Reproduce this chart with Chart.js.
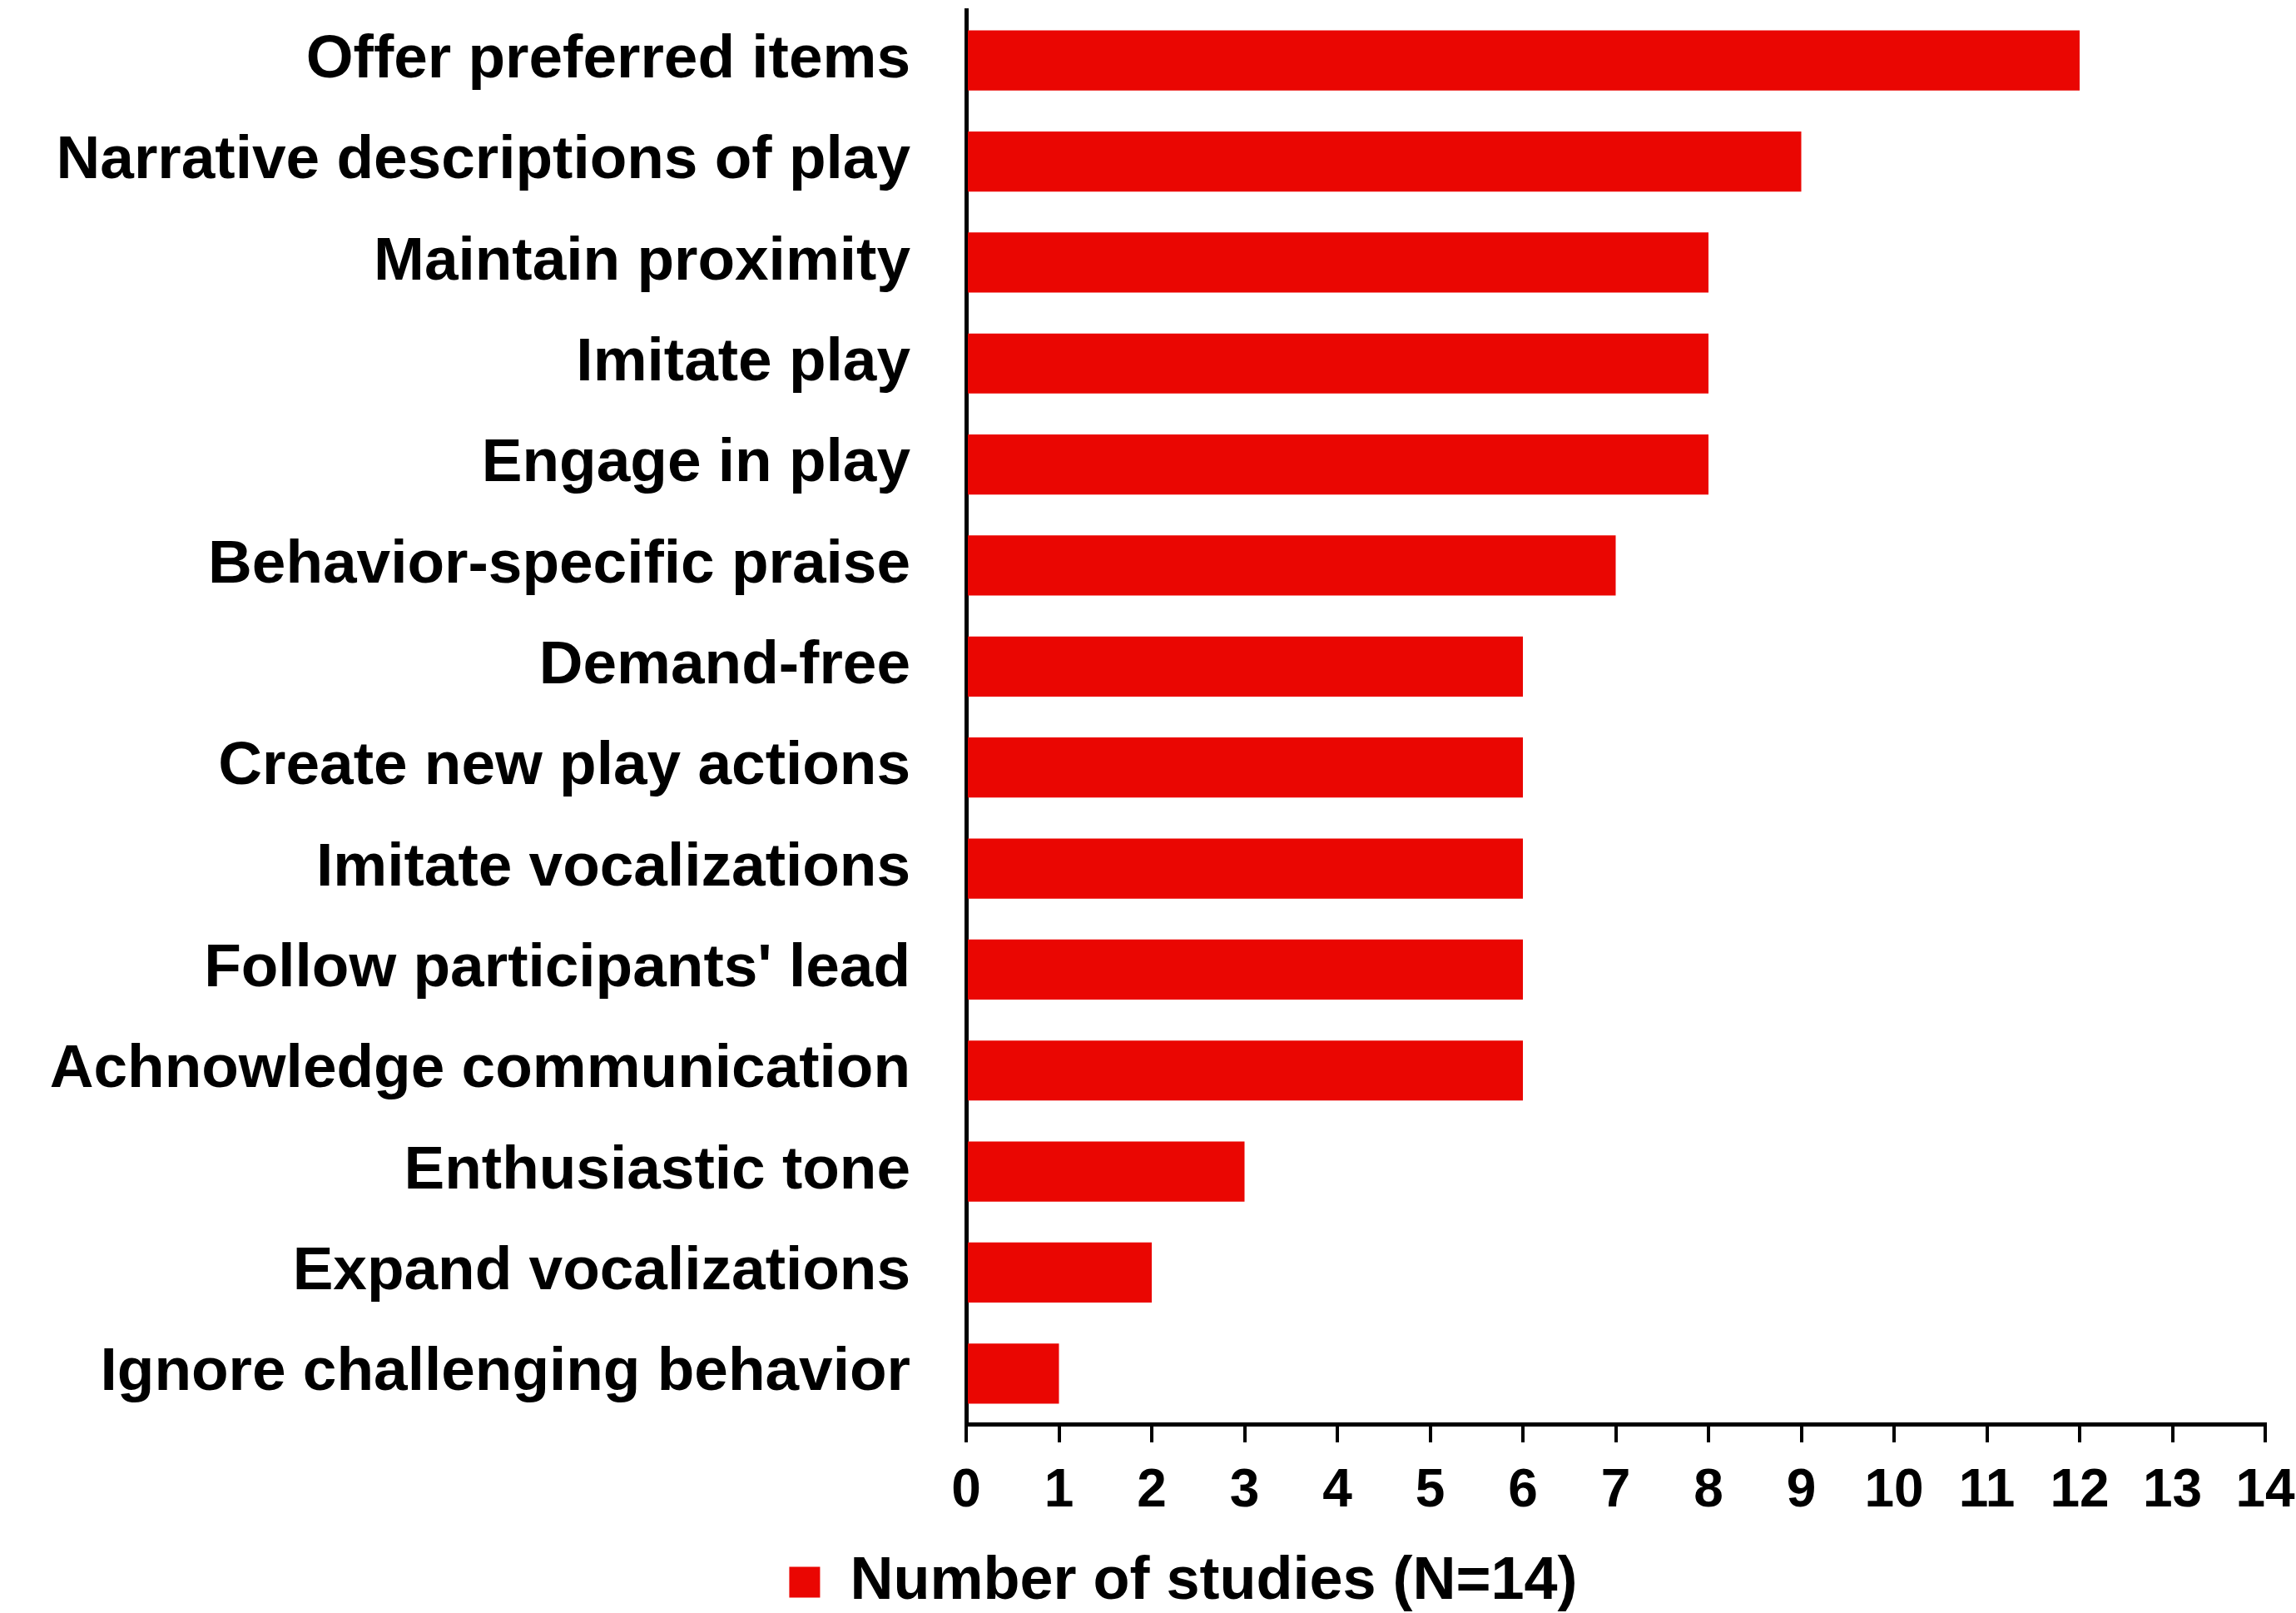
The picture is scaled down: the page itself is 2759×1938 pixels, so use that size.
<!DOCTYPE html>
<html>
<head>
<meta charset="utf-8">
<script src="https://cdn.jsdelivr.net/npm/chart.js@4.4.1/dist/chart.umd.min.js"></script>
<style>
  html, body { margin: 0; padding: 0; background: #fff; overflow: hidden; }
</style>
</head>
<body>
<canvas id="chart" width="2759" height="1938"></canvas>
<script>
// Estrategias (de arriba hacia abajo) y número de estudios
const categories = [
    "Offer preferred items",
    "Narrative descriptions of play",
    "Maintain proximity",
    "Imitate play",
    "Engage in play",
    "Behavior-specific praise",
    "Demand-free",
    "Create new play actions",
    "Imitate vocalizations",
    "Follow participants' lead",
    "Achnowledge communication",
    "Enthusiastic tone",
    "Expand vocalizations",
    "Ignore challenging behavior"
];
const studies = [12, 9, 8, 8, 8, 7, 6, 6, 6, 6, 6, 3, 2, 1];
const seriesLabel = "Number of studies (N=14)";
const xTicks = [0, 1, 2, 3, 4, 5, 6, 7, 8, 9, 10, 11, 12, 13, 14];

const FONT = "'Liberation Sans', Arial, sans-serif";
const RED = '#EA0602';

Chart.defaults.font.family = FONT;
Chart.defaults.color = '#000';

// Desplaza la leyenda un poco (derecha y abajo), como en el original
const legendShift = {
    id: 'legendShift',
    afterLayout(chart) {
        const lg = chart.legend;
        if (!lg) return;
        lg.left += 61;
        lg.right += 61;
        lg.top += 9;
        lg.bottom += 9;
    }
};

new Chart(document.getElementById('chart'), {
    type: 'bar',
    data: {
        labels: categories,
        datasets: [{
            label: seriesLabel,
            data: studies,
            backgroundColor: RED,
            borderWidth: 0,
            categoryPercentage: 1,
            barPercentage: 0.595
        }]
    },
    options: {
        indexAxis: 'y',
        responsive: false,
        animation: false,
        devicePixelRatio: 1,
        layout: {
            padding: { top: 12, left: 0, right: 37, bottom: 0 }
        },
        plugins: {
            legend: {
                position: 'bottom',
                labels: {
                    font: { size: 72, weight: 'bold' },
                    boxWidth: 37,
                    boxHeight: 37,
                    padding: 4,
                    color: '#000'
                }
            },
            tooltip: { enabled: false }
        },
        scales: {
            x: {
                min: 0,
                max: 14,
                afterBuildTicks: (scale) => {
                    scale.ticks = xTicks.map(v => ({ value: v }));
                },
                afterFit: (scale) => {
                    scale.height = 141;
                    scale.paddingLeft = 0;
                    scale.paddingRight = 0;
                },
                grid: {
                    drawOnChartArea: false,
                    drawTicks: true,
                    tickLength: 22,
                    tickColor: '#000',
                    lineWidth: 4
                },
                border: { color: '#000', width: 5 },
                ticks: {
                    font: { size: 64, weight: 'bold' },
                    color: '#000',
                    padding: 21,
                    maxRotation: 0,
                    autoSkip: false
                }
            },
            y: {
                afterFit: (scale) => {
                    scale.width = 1161;
                    scale.paddingTop = 0;
                    scale.paddingBottom = 0;
                },
                grid: { display: false, drawTicks: false },
                border: { color: '#000', width: 5 },
                ticks: {
                    font: { size: 73, weight: 'bold' },
                    color: '#000',
                    padding: 67,
                    autoSkip: false
                }
            }
        }
    },
    plugins: [legendShift]
});
</script>
</body>
</html>
